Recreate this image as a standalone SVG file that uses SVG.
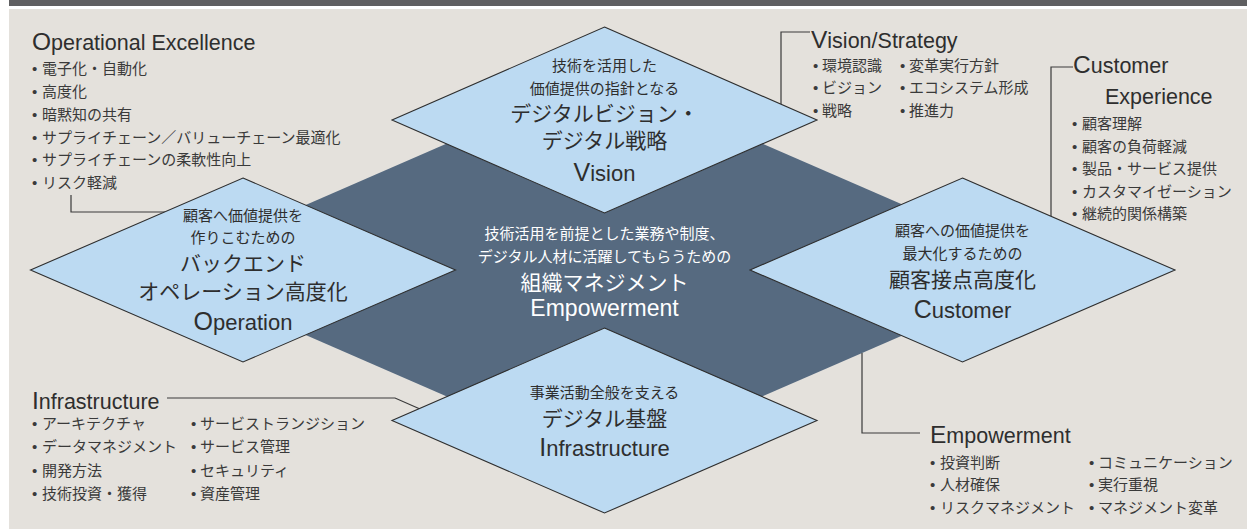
<svg xmlns="http://www.w3.org/2000/svg" width="1247" height="529" viewBox="0 0 1247 529">
<defs>
<style>
text{font-family:"Liberation Sans","Noto Sans CJK JP",sans-serif;fill:#2e2e2e}
.h{font-size:21.5px}
.cap{font-size:24.5px}
.it{font-size:15px;fill:#3a3a3a}
.s{font-size:15px;text-anchor:middle}
.l{font-size:21px;text-anchor:middle}
.e{font-size:22px;text-anchor:middle}
.w{fill:#ffffff}
.dia{fill:#bcdaf2;stroke:#2e2e2e;stroke-width:1.1}
.ln{fill:none;stroke:#3a3a3a;stroke-width:1.2}
</style>
</defs>
<rect x="0" y="0" width="1247" height="529" fill="#ffffff"/>
<rect x="9" y="0" width="1238" height="6" fill="#5f5f61"/>
<rect x="9" y="9" width="1238" height="520" fill="#e4e1dc"/>

<g id="empowerment-core">
<polygon points="604.5,75 1053,270 604.5,465 156,270" fill="#566a80"/>
</g>

<g id="connectors">
<polyline class="ln" points="71,195 71,212 165,212"/>
<polyline class="ln" points="810,32 781,32 781,104"/>
<polyline class="ln" points="1073,67 1051,67 1051,216"/>
<polyline class="ln" points="862,353 862,433 920,433"/>
<polyline class="ln" points="167,398 395,398 420,409"/>
</g>

<g id="node-vision">
<polygon class="dia" points="604.5,27 817,120 604.5,213 392,120"/>
<text class="s" x="604.5" y="71">技術を活用した</text>
<text class="s" x="604.5" y="94">価値提供の指針となる</text>
<text class="l" x="604.5" y="121">デジタルビジョン・</text>
<text class="l" x="604.5" y="148">デジタル戦略</text>
<text class="e" x="604.5" y="181"><tspan font-size="25">V</tspan>ision</text>
</g>

<g id="node-operation">
<polygon class="dia" points="243,178 455.5,270 243,362 30.5,270"/>
<text class="s" x="243" y="221">顧客へ価値提供を</text>
<text class="s" x="243" y="243">作りこむための</text>
<text class="l" x="243" y="271">バックエンド</text>
<text class="l" x="243" y="299">オペレーション高度化</text>
<text class="e" x="243" y="330"><tspan font-size="25">O</tspan>peration</text>
</g>

<g id="node-customer">
<polygon class="dia" points="962.5,178 1175,270 962.5,362 750,270"/>
<text class="s" x="962.5" y="236">顧客への価値提供を</text>
<text class="s" x="962.5" y="259">最大化するための</text>
<text class="l" x="962.5" y="287">顧客接点高度化</text>
<text class="e" x="962.5" y="318"><tspan font-size="25">C</tspan>ustomer</text>
</g>

<g id="node-infrastructure">
<polygon class="dia" points="604.5,328 817,420.5 604.5,513 392,420.5"/>
<text class="s" x="604.5" y="398">事業活動全般を支える</text>
<text class="l" x="604.5" y="426">デジタル基盤</text>
<text class="e" x="604.5" y="456"><tspan font-size="25">I</tspan>nfrastructure</text>
</g>

<g id="node-center">
<text class="s w" x="604.5" y="239">技術活用を前提とした業務や制度、</text>
<text class="s w" x="604.5" y="262">デジタル人材に活躍してもらうための</text>
<text class="l w" x="604.5" y="290">組織マネジメント</text>
<text class="w" x="604.5" y="316" font-size="23" text-anchor="middle">Empowerment</text>
</g>

<g id="label-operational-excellence">
<text class="h" x="32" y="50"><tspan class="cap">O</tspan>perational Excellence</text>
<text class="it" x="32" y="74">•<tspan x="42">電子化・自動化</tspan></text>
<text class="it" x="32" y="97">•<tspan x="42">高度化</tspan></text>
<text class="it" x="32" y="119.5">•<tspan x="42">暗黙知の共有</tspan></text>
<text class="it" x="32" y="142.5">•<tspan x="42">サプライチェーン／バリューチェーン最適化</tspan></text>
<text class="it" x="32" y="165">•<tspan x="42">サプライチェーンの柔軟性向上</tspan></text>
<text class="it" x="32" y="188">•<tspan x="42">リスク軽減</tspan></text>
</g>

<g id="label-vision-strategy">
<text class="h" x="811" y="48"><tspan class="cap">V</tspan>ision/Strategy</text>
<text class="it" x="813" y="71">•<tspan x="822">環境認識</tspan></text>
<text class="it" x="813" y="93">•<tspan x="822">ビジョン</tspan></text>
<text class="it" x="813" y="116">•<tspan x="822">戦略</tspan></text>
<text class="it" x="900" y="71">•<tspan x="909">変革実行方針</tspan></text>
<text class="it" x="900" y="93">•<tspan x="909">エコシステム形成</tspan></text>
<text class="it" x="900" y="116">•<tspan x="909">推進力</tspan></text>
</g>

<g id="label-customer-experience">
<text class="h" x="1073" y="73"><tspan class="cap">C</tspan>ustomer</text>
<text class="h" x="1105" y="104">Experience</text>
<text class="it" x="1072" y="129">•<tspan x="1082">顧客理解</tspan></text>
<text class="it" x="1072" y="152">•<tspan x="1082">顧客の負荷軽減</tspan></text>
<text class="it" x="1072" y="174">•<tspan x="1082">製品・サービス提供</tspan></text>
<text class="it" x="1072" y="197">•<tspan x="1082">カスタマイゼーション</tspan></text>
<text class="it" x="1072" y="219">•<tspan x="1082">継続的関係構築</tspan></text>
</g>

<g id="label-infrastructure">
<text class="h" x="32" y="409"><tspan class="cap">I</tspan>nfrastructure</text>
<text class="it" x="32" y="428.5">•<tspan x="42">アーキテクチャ</tspan></text>
<text class="it" x="32" y="452">•<tspan x="42">データマネジメント</tspan></text>
<text class="it" x="32" y="475.5">•<tspan x="42">開発方法</tspan></text>
<text class="it" x="32" y="499">•<tspan x="42">技術投資・獲得</tspan></text>
<text class="it" x="191" y="428.5">•<tspan x="200">サービストランジション</tspan></text>
<text class="it" x="191" y="452">•<tspan x="200">サービス管理</tspan></text>
<text class="it" x="191" y="475.5">•<tspan x="200">セキュリティ</tspan></text>
<text class="it" x="191" y="499">•<tspan x="200">資産管理</tspan></text>
</g>

<g id="label-empowerment">
<text class="h" x="930" y="443"><tspan class="cap">E</tspan>mpowerment</text>
<text class="it" x="930" y="468">•<tspan x="940">投資判断</tspan></text>
<text class="it" x="930" y="490">•<tspan x="940">人材確保</tspan></text>
<text class="it" x="930" y="513">•<tspan x="940">リスクマネジメント</tspan></text>
<text class="it" x="1089" y="468">•<tspan x="1098">コミュニケーション</tspan></text>
<text class="it" x="1089" y="490">•<tspan x="1098">実行重視</tspan></text>
<text class="it" x="1089" y="513">•<tspan x="1098">マネジメント変革</tspan></text>
</g>
</svg>
